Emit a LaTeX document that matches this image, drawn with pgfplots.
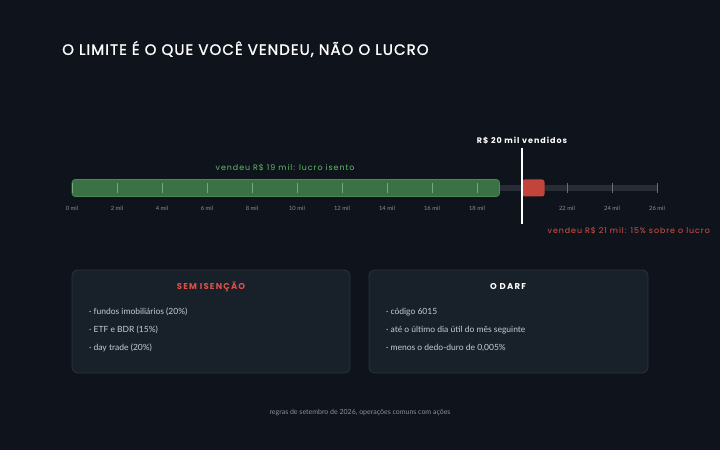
\documentclass[border=0pt]{standalone}
\usepackage{fontspec}
\usepackage{pgfplots}
\pgfplotsset{compat=1.18}
\setmainfont{Lato}
\newfontfamily\pop{Poppins}[LetterSpace=12]
\newfontfamily\popt{Poppins}[LetterSpace=7,FakeBold=1.3]
\newfontfamily\popw{Poppins}[LetterSpace=14]
\definecolor{bg}{HTML}{0F141C}
\definecolor{boxfill}{HTML}{18202A}
\definecolor{boxline}{HTML}{2A323D}
\definecolor{track}{HTML}{272C35}
\definecolor{barg}{HTML}{3A7245}
\definecolor{bargline}{HTML}{4A8A55}
\definecolor{barr}{HTML}{C2443B}
\definecolor{txtg}{HTML}{5FBE68}
\definecolor{txtr}{HTML}{DD5246}
\definecolor{tickg}{HTML}{8FBF95}
\definecolor{tickgrey}{HTML}{6A707A}
\definecolor{lbl}{HTML}{8A9099}
\definecolor{body}{HTML}{C9CDD3}
\begin{document}
\begin{tikzpicture}[x=1pt,y=1pt]
\fill[bg] (0,0) rectangle (720,450);
\node[anchor=west, text=white, font=\popt\fontsize{15}{17}\selectfont, inner sep=0] at (62,401) {O LIMITE É O QUE VOCÊ VENDEU, NÃO O LUCRO};
% boxes
\draw[boxline, fill=boxfill, rounded corners=6pt, line width=0.8pt] (72,77) rectangle (350,180);
\draw[boxline, fill=boxfill, rounded corners=6pt, line width=0.8pt] (369,77) rectangle (648,180);
\node[text=txtr, font=\popw\bfseries\fontsize{8.5}{10}\selectfont] at (211,163) {SEM ISENÇÃO};
\node[text=white, font=\popw\bfseries\fontsize{8.5}{10}\selectfont] at (508,163) {O DARF};
\begin{scope}[every node/.style={anchor=west, text=body, font=\fontsize{8.5}{10}\selectfont, inner sep=0}]
\node at (89,138) {· fundos imobiliários (20\%)};
\node at (89,120) {· ETF e BDR (15\%)};
\node at (89,102) {· day trade (20\%)};
\node at (386,138) {· código 6015};
\node at (386,120) {· até o último dia útil do mês seguinte};
\node at (386,102) {· menos o dedo-duro de 0,005\%};
\end{scope}
\node[text=lbl, font=\fontsize{7}{8}\selectfont] at (360,37) {regras de setembro de 2026, operações comuns com ações};
\begin{axis}[at={(0,0)}, anchor=south west, width=720pt, height=450pt, scale only axis,
  xmin=-3.2, xmax=28.8, ymin=0, ymax=450, axis lines=none, clip=false]
\addplot[track, line width=6pt] coordinates {(0,262) (26,262)};
\addplot[fill=barg, draw=bargline, line width=0.6pt, rounded corners=3pt] coordinates {(0,253.5) (19,253.5) (19,270.5) (0,270.5)} -- cycle;
\addplot[fill=barr, draw=none, rounded corners=2.5pt] coordinates {(20,253.5) (21,253.5) (21,270.5) (20,270.5)} -- cycle;
\addplot[only marks, mark=|, mark size=5pt, mark options={line width=1pt, draw=tickg, draw opacity=0.7}] coordinates {(0,262) (2,262) (4,262) (6,262) (8,262) (10,262) (12,262) (14,262) (16,262) (18,262)};
\addplot[only marks, mark=|, mark size=5pt, mark options={line width=1pt, draw=tickgrey}] coordinates {(22,262) (24,262) (26,262)};
\addplot[white, line width=1.6pt] coordinates {(20,226) (20,302)};
\begin{scope}[every node/.style={text=lbl, font=\fontsize{5.8}{6}\selectfont}]
\node at (axis cs:0,242) {0 mil};
\node at (axis cs:2,242) {2 mil};
\node at (axis cs:4,242) {4 mil};
\node at (axis cs:6,242) {6 mil};
\node at (axis cs:8,242) {8 mil};
\node at (axis cs:10,242) {10 mil};
\node at (axis cs:12,242) {12 mil};
\node at (axis cs:14,242) {14 mil};
\node at (axis cs:16,242) {16 mil};
\node at (axis cs:18,242) {18 mil};
\node at (axis cs:22,242) {22 mil};
\node at (axis cs:24,242) {24 mil};
\node at (axis cs:26,242) {26 mil};
\end{scope}
\node[text=white, font=\pop\bfseries\fontsize{8}{10}\selectfont] at (axis cs:20,309) {R\$ 20 mil vendidos};
\node[text=txtg, font=\pop\fontsize{7.9}{9}\selectfont] at (axis cs:9.47,282) {vendeu R\$ 19 mil: lucro isento};
\node[text=txtr, font=\pop\fontsize{7.9}{9}\selectfont, anchor=east, inner sep=0] at (axis cs:28.36,219) {vendeu R\$ 21 mil: 15\% sobre o lucro};
\end{axis}
\end{tikzpicture}
\end{document}
